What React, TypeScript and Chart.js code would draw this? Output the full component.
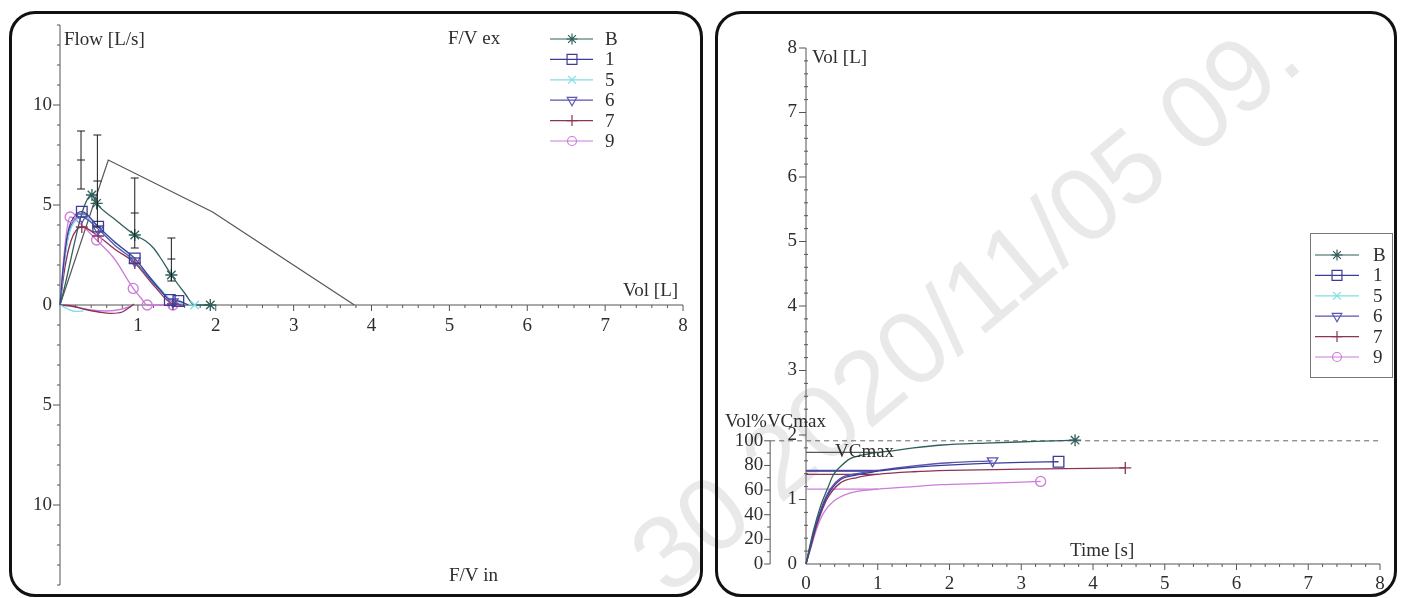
import React, { useEffect, useRef } from 'react';
import { Chart, registerables } from 'chart.js';
import { drawPoint } from 'chart.js/helpers';

Chart.register(...registerables);

// ---------------- shared ----------------
const seriesNames = ['B', '1', '5', '6', '7', '9'];

// ---------------- Flow / Volume (left) ----------------
const volTicks = [1, 2, 3, 4, 5, 6, 7, 8];
const flowTicks = [10, 5, 0, -5, -10];

const predVol = [0, 0.62, 1.96, 3.78];
const predFlow = [0, 7.25, 4.65, 0];

const errVol = [0.27, 0.48, 0.96, 1.43];
const errLow = [5.8, 3.9, 2.85, 1.2];
const errMid = [7.25, 6.2, 4.6, 2.3];
const errHigh = [8.7, 8.5, 6.35, 3.35];

const fvVolB = [0, 0.41, 0.47, 0.7, 0.96, 1.1, 1.2, 1.3, 1.43, 1.6, 1.73, 1.93];
const fvFlowB = [0, 5.5, 5.08, 4.3, 3.5, 3.2, 2.85, 2.3, 1.5, 0.6, 0, 0];
const fvMarkVolB = [0.41, 0.47, 0.96, 1.43, 1.93];
const fvMarkFlowB = [5.5, 5.08, 3.5, 1.5, 0];

const fvVol1 = [0, 0.04, 0.1, 0.18, 0.28, 0.49, 0.7, 0.96, 1.15, 1.3, 1.41, 1.52, 1.65];
const fvFlow1 = [0, 1.8, 3.6, 4.4, 4.67, 3.92, 3.15, 2.33, 1.4, 0.7, 0.25, 0.2, 0];
const fvMarkVol1 = [0.28, 0.49, 0.96, 1.41, 1.52];
const fvMarkFlow1 = [4.67, 3.92, 2.33, 0.25, 0.2];

const fvVol5 = [0, 0.05, 0.12, 0.22, 0.3, 0.5, 0.96, 1.2, 1.45, 1.73];
const fvFlow5 = [0, 2.0, 3.6, 4.3, 4.45, 3.85, 2.25, 1.2, 0.2, 0];
const fvMarkVol5 = [1.73];
const fvMarkFlow5 = [0];
const fvInspVol5 = [0, 0.1, 0.2, 0.3];
const fvInspFlow5 = [0, -0.2, -0.32, -0.3];

const fvVol6 = [0, 0.05, 0.12, 0.2, 0.28, 0.49, 0.7, 0.96, 1.2, 1.45, 1.62];
const fvFlow6 = [0, 2.0, 3.7, 4.3, 4.4, 3.8, 3.0, 2.2, 1.1, 0.15, 0];
const fvMarkVol6 = [0.28, 0.49, 0.96, 1.45];
const fvMarkFlow6 = [4.4, 3.8, 2.2, 0.15];

const fvVol7 = [0, 0.06, 0.14, 0.22, 0.28, 0.49, 0.7, 0.96, 1.2, 1.45, 1.6];
const fvFlow7 = [0, 1.8, 3.2, 3.8, 3.9, 3.45, 2.8, 2.1, 1.0, 0.05, 0];
const fvMarkVol7 = [0.28, 0.49, 0.96, 1.45];
const fvMarkFlow7 = [3.9, 3.45, 2.1, 0.05];
const fvInspVol7 = [0, 0.15, 0.3, 0.5, 0.65, 0.8, 0.9, 0.95];
const fvInspFlow7 = [0, -0.05, -0.2, -0.35, -0.42, -0.35, -0.1, 0.05];

const fvVol9 = [0, 0.04, 0.09, 0.13, 0.25, 0.47, 0.7, 0.94, 1.05, 1.12, 1.45];
const fvFlow9 = [0, 2.0, 3.8, 4.4, 4.1, 3.25, 2.3, 0.83, 0.3, 0, 0];
const fvMarkVol9 = [0.13, 0.47, 0.94, 1.12, 1.45];
const fvMarkFlow9 = [4.4, 3.25, 0.83, 0, 0];
const fvInspVol9 = [0, 0.2, 0.4, 0.6, 0.8, 0.95];
const fvInspFlow9 = [0, -0.1, -0.25, -0.3, -0.2, 0];

// ---------------- Volume / Time (right) ----------------
const timeTicks = [0, 1, 2, 3, 4, 5, 6, 7, 8];
const volAxisTicks = [0, 1, 2, 3, 4, 5, 6, 7, 8];
const pctTicks = [0, 20, 40, 60, 80, 100];
const VCMAX = 1.91;

const tvTimeB = [0, 0.1, 0.2, 0.3, 0.38, 0.5, 0.61, 0.75, 1.0, 1.25, 1.5, 1.9, 2.5, 3.2, 3.75];
const tvVolB = [0, 0.5, 0.89, 1.17, 1.38, 1.53, 1.63, 1.68, 1.73, 1.76, 1.8, 1.845, 1.875, 1.9, 1.92];
const tvTime1 = [0, 0.05, 0.15, 0.29, 0.47, 0.71, 0.9, 1.0, 1.5, 1.9, 2.5, 3.0, 3.52];
const tvVol1 = [0, 0.22, 0.63, 1.04, 1.3, 1.38, 1.42, 1.44, 1.5, 1.53, 1.56, 1.575, 1.585];
const tvTime6 = [0, 0.05, 0.15, 0.29, 0.47, 0.71, 1.0, 1.5, 2.0, 2.6];
const tvVol6 = [0, 0.24, 0.66, 1.07, 1.32, 1.4, 1.45, 1.52, 1.57, 1.6];
const tvTime7 = [0, 0.05, 0.15, 0.29, 0.47, 0.71, 1.0, 1.5, 2.0, 3.0, 4.45];
const tvVol7 = [0, 0.2, 0.6, 1.0, 1.25, 1.34, 1.39, 1.43, 1.45, 1.47, 1.49];
const tvTime9 = [0, 0.05, 0.15, 0.25, 0.38, 0.61, 1.0, 1.5, 1.87, 2.5, 3.27];
const tvVol9 = [0, 0.18, 0.55, 0.8, 0.97, 1.1, 1.16, 1.2, 1.23, 1.25, 1.28];
const fev1Values = [1.73, 1.44, null, 1.45, 1.39, 1.16];

// ---------------- styles ----------------
const seriesColors = ['#2f5f5b', '#3c3c98', '#7fdce6', '#5a55b0', '#8c3358', '#cc7cda'];
const seriesMarkers = ['star', 'rect', 'crossRot', 'triangle', 'cross', 'circle'];
const seriesRotation = [0, 0, 0, 180, 0, 0];
const markerRadius = [6, 7.5, 6, 6, 6, 5];
const FONT = '"Liberation Serif", "Times New Roman", Times, serif';
const TXT = '#2e2e2e';
const AX = '#555';

type Pt = { x: number; y: number };
const zip = (xs: number[], ys: number[]): Pt[] => xs.map((x, i) => ({ x, y: ys[i] }));

function seg(ctx: CanvasRenderingContext2D, x1: number, y1: number, x2: number, y2: number) {
  ctx.beginPath();
  ctx.moveTo(x1, y1);
  ctx.lineTo(x2, y2);
  ctx.stroke();
}

function drawLegend(ctx: CanvasRenderingContext2D, x1: number, x2: number, xm: number, xt: number, y0: number, dy: number) {
  seriesNames.forEach((n, i) => {
    const y = y0 + i * dy;
    ctx.save();
    ctx.strokeStyle = seriesColors[i];
    ctx.lineWidth = 1.2;
    seg(ctx, x1, y, x2, y);
    ctx.fillStyle = 'rgba(0,0,0,0)';
    drawPoint(ctx, { pointStyle: seriesMarkers[i], rotation: seriesRotation[i], radius: markerRadius[i] - 0.5, borderWidth: 1.2 } as any, xm, y);
    ctx.fillStyle = TXT;
    ctx.font = `19px ${FONT}`;
    ctx.textAlign = 'left';
    ctx.textBaseline = 'middle';
    ctx.fillText(n, xt, y + 1);
    ctx.restore();
  });
}

const fvCurves: [number[], number[]][] = [
  [fvVolB, fvFlowB], [fvVol1, fvFlow1], [fvVol5, fvFlow5], [fvVol6, fvFlow6], [fvVol7, fvFlow7], [fvVol9, fvFlow9],
];
const fvMarks: [number[], number[]][] = [
  [fvMarkVolB, fvMarkFlowB], [fvMarkVol1, fvMarkFlow1], [fvMarkVol5, fvMarkFlow5], [fvMarkVol6, fvMarkFlow6], [fvMarkVol7, fvMarkFlow7], [fvMarkVol9, fvMarkFlow9],
];
const fvInsp: ([number[], number[]] | null)[] = [null, null, [fvInspVol5, fvInspFlow5], null, [fvInspVol7, fvInspFlow7], [fvInspVol9, fvInspFlow9]];

const tvCurves: ([number[], number[]] | null)[] = [
  [tvTimeB, tvVolB], [tvTime1, tvVol1], null, [tvTime6, tvVol6], [tvTime7, tvVol7], [tvTime9, tvVol9],
];

function markerDs(data: Pt[], i: number) {
  return {
    data,
    showLine: false,
    pointStyle: seriesMarkers[i],
    rotation: seriesRotation[i],
    pointRadius: markerRadius[i],
    pointBorderColor: seriesColors[i],
    pointBackgroundColor: 'rgba(0,0,0,0)',
    pointBorderWidth: 1.3,
    clip: false,
  };
}
function curveDs(data: Pt[], color: string, width = 1.3) {
  return {
    data,
    borderColor: color,
    borderWidth: width,
    pointRadius: 0,
    cubicInterpolationMode: 'monotone',
    fill: false,
    clip: false,
  };
}

function buildLeft(): any {
  const datasets: any[] = [];
  errVol.forEach((v, i) => {
    datasets.push({
      data: [{ x: v, y: errLow[i] }, { x: v, y: errMid[i] }, { x: v, y: errHigh[i] }],
      borderColor: '#1a1a1a', borderWidth: 1, tension: 0,
      pointStyle: 'line', pointRadius: 4, pointBorderWidth: 1, pointBorderColor: '#1a1a1a',
    });
  });
  seriesNames.forEach((_, i) => datasets.push(markerDs(zip(fvMarks[i][0], fvMarks[i][1]), i)));
  seriesNames.forEach((_, i) => {
    datasets.push(curveDs(zip(fvCurves[i][0], fvCurves[i][1]), seriesColors[i]));
    const ins = fvInsp[i];
    if (ins) datasets.push(curveDs(zip(ins[0], ins[1]), seriesColors[i]));
  });
  datasets.push({ data: zip(predVol, predFlow), borderColor: '#555', borderWidth: 1.2, pointRadius: 0, tension: 0 });

  const plugin = {
    id: 'fvAxes',
    beforeDatasetsDraw(chart: any) {
      const { ctx } = chart;
      const x = chart.scales.x, y = chart.scales.y;
      const x0 = x.getPixelForValue(0), y0 = y.getPixelForValue(0);
      ctx.save();
      ctx.strokeStyle = AX;
      ctx.lineWidth = 1;
      seg(ctx, x0, y.getPixelForValue(14), x0, y.getPixelForValue(-14));
      seg(ctx, x0, y0, x.getPixelForValue(8), y0);
      for (let k = 1; k <= 40; k++) {
        const px = x.getPixelForValue(k / 5);
        seg(ctx, px, y0, px, y0 + (k % 5 === 0 ? 6 : 3));
      }
      for (let v = -14; v <= 14; v++) {
        if (v === 0) continue;
        const py = y.getPixelForValue(v);
        seg(ctx, x0 - (v % 5 === 0 ? 7 : 3), py, x0, py);
      }
      ctx.fillStyle = TXT;
      ctx.font = `19px ${FONT}`;
      ctx.textBaseline = 'middle';
      ctx.textAlign = 'center';
      volTicks.forEach((t) => ctx.fillText(String(t), x.getPixelForValue(t), y0 + 21));
      ctx.textAlign = 'right';
      flowTicks.forEach((t) => ctx.fillText(String(Math.abs(t)), x0 - 8, y.getPixelForValue(t)));
      ctx.restore();
    },
    afterDraw(chart: any) {
      const { ctx } = chart;
      ctx.save();
      ctx.fillStyle = TXT;
      ctx.font = `19px ${FONT}`;
      ctx.textBaseline = 'middle';
      ctx.textAlign = 'left';
      ctx.fillText('Flow [L/s]', 64, 40);
      ctx.fillText('F/V ex', 448, 39);
      ctx.fillText('Vol [L]', 623, 291);
      ctx.fillText('F/V in', 449, 576);
      ctx.restore();
      drawLegend(ctx, 550, 593, 572, 605, 39, 20.4);
    },
  };

  return {
    type: 'line',
    data: { datasets },
    options: {
      animation: false,
      responsive: false,
      devicePixelRatio: 1,
      layout: { padding: { left: 60, right: 22, top: 25, bottom: 13 } },
      plugins: { legend: { display: false }, tooltip: { enabled: false } },
      events: [],
      scales: {
        x: { type: 'linear', min: 0, max: 8, display: false },
        y: { type: 'linear', min: -14, max: 14, display: false },
      },
    },
    plugins: [plugin],
  };
}

function buildRight(): any {
  const datasets: any[] = [];
  seriesNames.forEach((_, i) => {
    const c = tvCurves[i];
    if (!c) return;
    const n = c[0].length - 1;
    datasets.push(markerDs([{ x: c[0][n], y: c[1][n] }], i));
  });
  seriesNames.forEach((_, i) => {
    const c = tvCurves[i];
    if (c) datasets.push(curveDs(zip(c[0], c[1]), seriesColors[i]));
  });
  seriesNames.forEach((_, i) => {
    const f = fev1Values[i];
    if (f != null) datasets.push({ data: [{ x: 0, y: f }, { x: 1, y: f }], borderColor: i === 0 ? '#555' : seriesColors[i], borderWidth: 1.3, pointRadius: 0, tension: 0 });
  });
  datasets.push({
    data: [{ x: -0.5, y: VCMAX }, { x: 8, y: VCMAX }],
    borderColor: '#666', borderWidth: 1, borderDash: [5, 4], pointRadius: 0, tension: 0, clip: false,
  });

  const plugin = {
    id: 'tvAxes',
    beforeDatasetsDraw(chart: any) {
      const { ctx } = chart;
      const x = chart.scales.x, y = chart.scales.y, yp = chart.scales.yp;
      const x0 = x.getPixelForValue(0), y0 = y.getPixelForValue(0);
      const xp = x.getPixelForValue(-0.5);
      ctx.save();
      ctx.strokeStyle = AX;
      ctx.lineWidth = 1;
      seg(ctx, x0, y.getPixelForValue(8), x0, y0);
      seg(ctx, x0, y0, x.getPixelForValue(8), y0);
      for (let k = 1; k <= 40; k++) {
        const py = y.getPixelForValue(k / 5);
        if (k % 5 === 0) seg(ctx, x0 - 7, py, x0, py);
        else seg(ctx, x0 - 2, py, x0 + 2, py);
        const px = x.getPixelForValue(k / 5);
        seg(ctx, px, y0, px, y0 + (k % 5 === 0 ? 6 : 3));
      }
      seg(ctx, xp, yp.getPixelForValue(0), xp, yp.getPixelForValue(100));
      for (let p = 0; p <= 100; p += 10) {
        const py = yp.getPixelForValue(p);
        seg(ctx, xp - (p % 20 === 0 ? 6 : 3), py, xp, py);
      }
      ctx.fillStyle = TXT;
      ctx.font = `19px ${FONT}`;
      ctx.textBaseline = 'middle';
      ctx.textAlign = 'center';
      timeTicks.forEach((t) => ctx.fillText(String(t), x.getPixelForValue(t), y0 + 20));
      ctx.textAlign = 'right';
      volAxisTicks.forEach((t) => ctx.fillText(String(t), x0 - 9, y.getPixelForValue(t)));
      pctTicks.forEach((t) => ctx.fillText(String(t), xp - 7, yp.getPixelForValue(t)));
      ctx.restore();
    },
    afterDraw(chart: any) {
      const { ctx } = chart;
      ctx.save();
      ctx.fillStyle = TXT;
      ctx.font = `19px ${FONT}`;
      ctx.textBaseline = 'middle';
      ctx.textAlign = 'left';
      ctx.fillText('Vol [L]', 107, 58);
      ctx.fillText('Vol%VCmax', 20, 422);
      ctx.fillText('VCmax', 130, 452);
      ctx.fillText('Time [s]', 365, 551);
      ctx.strokeStyle = '#777';
      ctx.lineWidth = 1;
      ctx.strokeRect(605.5, 233.5, 82, 144);
      ctx.restore();
      drawLegend(ctx, 610, 654, 632, 668, 255, 20.4);
    },
  };

  return {
    type: 'line',
    data: { datasets },
    options: {
      animation: false,
      responsive: false,
      devicePixelRatio: 1,
      layout: { padding: { left: 101, right: 28, top: 48, bottom: 34 } },
      plugins: { legend: { display: false }, tooltip: { enabled: false } },
      events: [],
      scales: {
        x: { type: 'linear', min: 0, max: 8, display: false },
        y: { type: 'linear', min: 0, max: 8, display: false },
        yp: { type: 'linear', min: 0, max: (100 * 8) / VCMAX, display: false },
      },
    },
    plugins: [plugin],
  };
}

export default function App() {
  const leftRef = useRef<HTMLCanvasElement>(null);
  const rightRef = useRef<HTMLCanvasElement>(null);
  useEffect(() => {
    const c1 = new Chart(leftRef.current as HTMLCanvasElement, buildLeft());
    const c2 = new Chart(rightRef.current as HTMLCanvasElement, buildRight());
    return () => {
      c1.destroy();
      c2.destroy();
    };
  }, []);
  return (
    <div style={{ position: 'fixed', left: 0, top: 0, width: 1408, height: 598, background: '#fff', overflow: 'hidden' }}>
      <div
        style={{
          position: 'absolute', left: 612, top: 530, transform: 'rotate(-39.8deg)', transformOrigin: '0 0',
          whiteSpace: 'nowrap', fontFamily: '"Liberation Sans", Arial, sans-serif', fontSize: 104, lineHeight: 1,
          color: 'rgba(0,0,0,0.085)', pointerEvents: 'none',
        }}
      >
        30 2020/11/05 09.
      </div>
      <div style={{ position: 'absolute', left: 9, top: 11, width: 688, height: 580, border: '3px solid #111', borderRadius: 26 }} />
      <div style={{ position: 'absolute', left: 715, top: 11, width: 676, height: 580, border: '3px solid #111', borderRadius: 26 }} />
      <canvas ref={leftRef} width={705} height={598} style={{ position: 'absolute', left: 0, top: 0, width: 705, height: 598 }} />
      <canvas ref={rightRef} width={703} height={598} style={{ position: 'absolute', left: 705, top: 0, width: 703, height: 598 }} />
    </div>
  );
}
